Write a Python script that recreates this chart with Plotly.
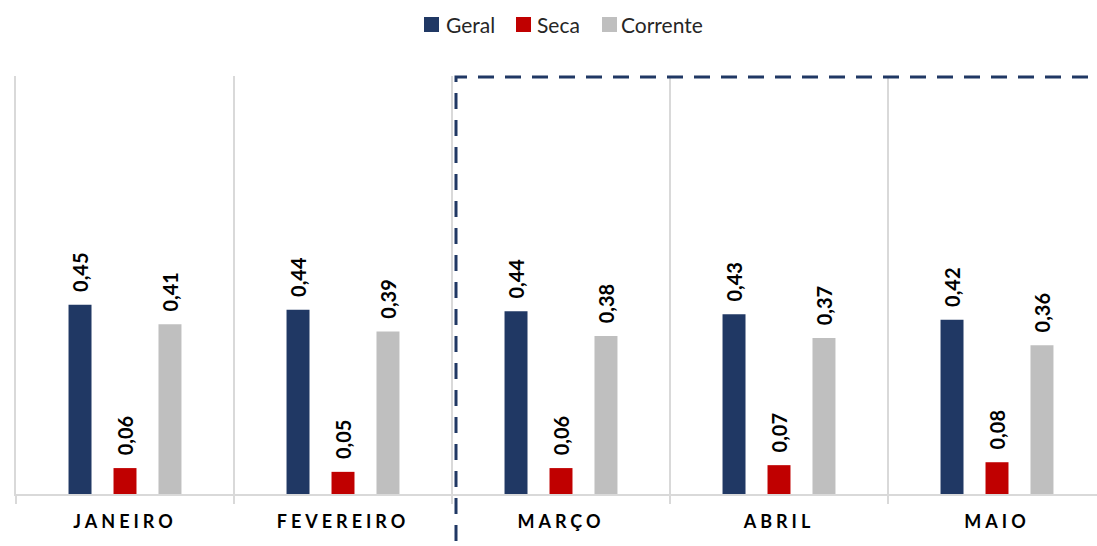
import plotly.graph_objects as go

categories = ["JANEIRO", "FEVEREIRO", "MARÇO", "ABRIL", "MAIO"]
geral = [0.453, 0.441, 0.437, 0.430, 0.417]
seca = [0.062, 0.053, 0.062, 0.069, 0.076]
corrente = [0.406, 0.389, 0.378, 0.373, 0.356]
series_names = ["Geral", "Seca", "Corrente"]
series_colors = ["#203864", "#C00000", "#BFBFBF"]

W, H = 1097, 546
ML, MR, MT, MB = 16, 0, 76, 52
PW, PH = W - ML - MR, H - MT - MB

def px_x(x):
    return (x - ML) / PW

def px_y(y):
    return (H - MB - y) / PH

FONT = "Lato, 'Open Sans', sans-serif"

fig = go.Figure()
for name, vals, col in zip(series_names, [geral, seca, corrente], series_colors):
    fig.add_trace(go.Bar(
        x=categories, y=vals, name=name,
        marker=dict(color=col, line=dict(width=0)),
        texttemplate="\u00a0\u00a0%{y:.2f}",
        textposition="outside", textangle=-90,
        textfont=dict(family=FONT, size=20, color="#000000", weight="bold"),
        constraintext="none", cliponaxis=False, showlegend=False,
        hoverinfo="skip",
    ))

# manual legend (squares + labels)
legend_items = [(424, 444), (516, 535), (602, 619)]
for (sx, tx), name, col in zip(legend_items, series_names, series_colors):
    fig.add_shape(type="rect", xref="paper", yref="paper",
                  x0=px_x(sx), x1=px_x(sx + 15), y0=px_y(32), y1=px_y(17),
                  fillcolor=col, line=dict(width=0))
    fig.add_annotation(xref="paper", yref="paper", x=px_x(tx), y=px_y(24.5),
                       xanchor="left", yanchor="middle", showarrow=False,
                       text=name, font=dict(family=FONT, size=21, color="#262626"))

# dashed highlight frame
fig.add_shape(type="path", xref="paper", yref="paper",
              path=f"M {px_x(456)},{px_y(541)} L {px_x(456)},{px_y(77)} L {px_x(1100)},{px_y(77)}",
              line=dict(color="#203864", width=3, dash="16px,11px"))

fig.update_layout(
    width=W, height=H,
    margin=dict(l=ML, r=MR, t=MT, b=MB),
    paper_bgcolor="white", plot_bgcolor="white",
    barmode="group", bargap=0.381, bargroupgap=0.489,
    separators=",.",
    font=dict(family=FONT),
    xaxis=dict(
        range=[-0.5, 4.5 - 9 / 218], tickson="boundaries",
        showgrid=True, gridcolor="#D9D9D9", gridwidth=1.5,
        showline=True, linecolor="#D9D9D9", linewidth=2,
        ticks="outside", ticklen=8, tickcolor="#D9D9D9", tickwidth=1.5,
        tickfont=dict(family=FONT, size=18, color="#000000", weight="bold"),
        ticklabelstandoff=10,
    ),
    yaxis=dict(
        range=[0, 1.0], showgrid=False, zeroline=False,
        showticklabels=False, showline=True, linecolor="#D9D9D9", linewidth=1.5,
    ),
)

post = """
document.body.style.margin='0';
document.querySelectorAll('.xtick text').forEach(function(t){ t.style.letterSpacing='4px'; });
"""
fig.write_html("out.html", post_script=post, config={"displayModeBar": False})
